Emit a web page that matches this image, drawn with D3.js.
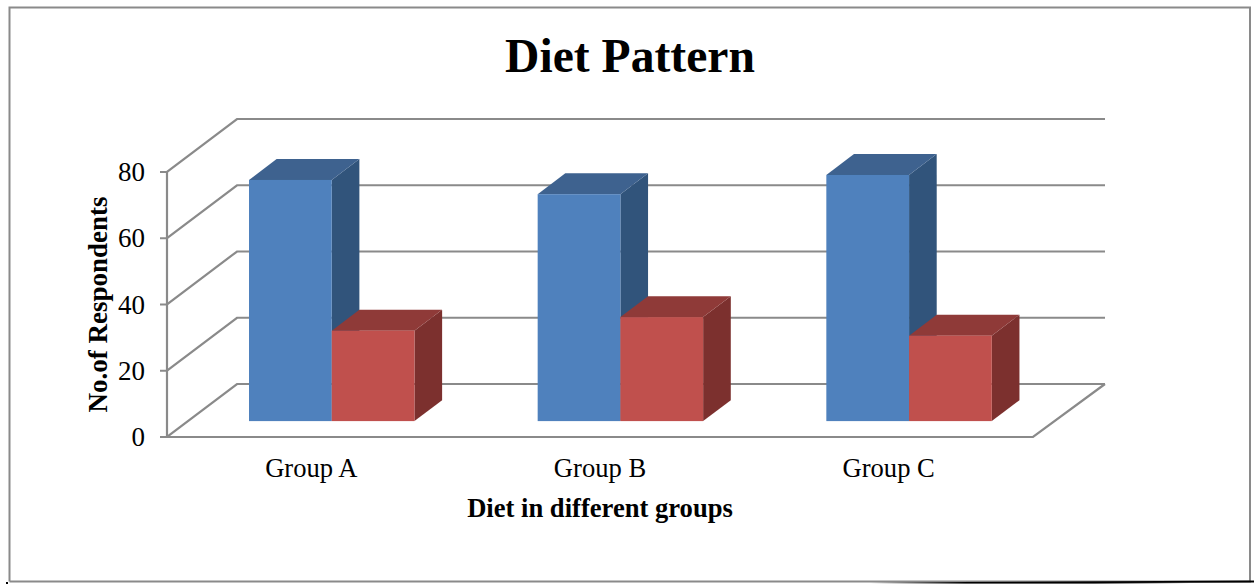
<!DOCTYPE html>
<html>
<head>
<meta charset="utf-8">
<style>
html,body{margin:0;padding:0;background:#fff;overflow:hidden}
svg{display:block}
text{font-family:"Liberation Serif",serif;fill:#000}
</style>
<script src="https://cdn.jsdelivr.net/npm/d3@7/dist/d3.min.js"></script>
</head>
<body>
<svg id="chart" width="1259" height="584"></svg>
<script>
// Survey values
const groups = ["Group A", "Group B", "Group C"];
const seriesBlue = [72.8, 68.5, 74.3];
const seriesRed = [27.3, 31.4, 25.8];
const yTicks = [0, 20, 40, 60, 80];

const svg = d3.select("#chart");

// Oblique projection: floor depth shifts points right and up
const wallDx = 70, wallDy = -53;
const barDepthStart = 0.3, barDepthSize = 0.395;

const x = d3.scaleBand().domain(groups).range([167, 1033]);
const y = d3.scaleLinear().domain([0, 80]).range([437, 172]);
const inner = d3.scaleBand().domain([0, 1]).range([61, x.bandwidth() - 62.2]);

const gridColor = "#8a8a8a";

// Outer frame, with its dark shadow along the lower right
const defs = svg.append("defs");
const shadow = defs.append("linearGradient").attr("id", "frameShadow")
  .attr("gradientUnits", "userSpaceOnUse").attr("x1", 870).attr("x2", 1190).attr("y1", 0).attr("y2", 0);
shadow.append("stop").attr("offset", 0).attr("stop-color", "#000").attr("stop-opacity", 0);
shadow.append("stop").attr("offset", 0.3).attr("stop-color", "#000").attr("stop-opacity", 1);
shadow.append("stop").attr("offset", 0.7).attr("stop-color", "#000").attr("stop-opacity", 1);
shadow.append("stop").attr("offset", 1).attr("stop-color", "#000").attr("stop-opacity", 0);

svg.append("path")
  .attr("d", "M9.5,581.5 V7.5 H1250 V581.5 H9.5")
  .attr("fill", "none").attr("stroke", gridColor).attr("stroke-width", 2);
svg.append("rect").attr("x", 870).attr("y", 582).attr("width", 320).attr("height", 1.6)
  .attr("fill", "url(#frameShadow)");
svg.append("path")
  .attr("d", d3.line()([[960, 582], [1254, 580.6], [1254, 582.4], [1090, 583]]) + "Z")
  .attr("fill", "#000");
svg.append("rect").attr("x", 6).attr("y", 582).attr("width", 2).attr("height", 2).attr("fill", "#000");

// Back wall gridlines, side wall diagonals and tick marks
const walls = svg.append("g").attr("fill", "none").attr("stroke", gridColor).attr("stroke-width", 2.2);
yTicks.forEach(t => {
  const yy = y(t);
  walls.append("path").attr("d", d3.line()([
    [160, yy], [167, yy], [167 + wallDx, yy + wallDy], [1105, yy + wallDy]
  ]));
});
walls.append("path").attr("d", d3.line()([[167, y(80)], [167, y(0)], [1033, y(0)], [1105, y(0) + wallDy]]));

// Bars: side face, top face, front face
const series = [
  { values: seriesBlue, front: "#4f81bd", top: "#3e628f", side: "#31547b" },
  { values: seriesRed, front: "#c0504d", top: "#8f3a38", side: "#7c302e" }
];
const barDx = wallDx * barDepthStart, barDy = wallDy * barDepthStart;
const depthDx = wallDx * barDepthSize, depthDy = wallDy * barDepthSize;

groups.forEach((g, gi) => {
  series.forEach((s, si) => {
    const x0 = x(g) + inner(si) + barDx;
    const x1 = x0 + inner.bandwidth();
    const yBase = y(0) + barDy;
    const yTop = y(s.values[gi]) + barDy;
    const bar = svg.append("g");
    bar.append("path")
      .attr("d", d3.line()([[x1, yTop], [x1 + depthDx, yTop + depthDy], [x1 + depthDx, yBase + depthDy], [x1, yBase]]) + "Z")
      .attr("fill", s.side);
    bar.append("path")
      .attr("d", d3.line()([[x0, yTop], [x0 + depthDx, yTop + depthDy], [x1 + depthDx, yTop + depthDy], [x1, yTop]]) + "Z")
      .attr("fill", s.top);
    bar.append("rect")
      .attr("x", x0).attr("y", yTop)
      .attr("width", inner.bandwidth()).attr("height", yBase - yTop)
      .attr("fill", s.front);
  });
});

// Value axis labels
svg.append("g").selectAll("text").data(yTicks).join("text")
  .attr("x", 145).attr("y", d => y(d) + 9)
  .attr("text-anchor", "end").attr("font-size", 27)
  .text(d => d);

// Category labels
svg.append("g").selectAll("text").data(groups).join("text")
  .attr("x", d => x(d) + x.bandwidth() / 2)
  .attr("y", 477)
  .attr("text-anchor", "middle").attr("font-size", 26.6)
  .text(d => d);

// Titles
svg.append("text").attr("x", 630).attr("y", 72).attr("text-anchor", "middle")
  .attr("font-size", 47.6).attr("font-weight", "bold").text("Diet Pattern");
svg.append("text").attr("x", 600).attr("y", 516.5).attr("text-anchor", "middle")
  .attr("font-size", 26.6).attr("font-weight", "bold").text("Diet in different groups");
svg.append("text")
  .attr("transform", "translate(106.5,304.5) rotate(-90)")
  .attr("text-anchor", "middle")
  .attr("font-size", 27).attr("font-weight", "bold").text("No.of Respondents");
</script>
</body>
</html>
